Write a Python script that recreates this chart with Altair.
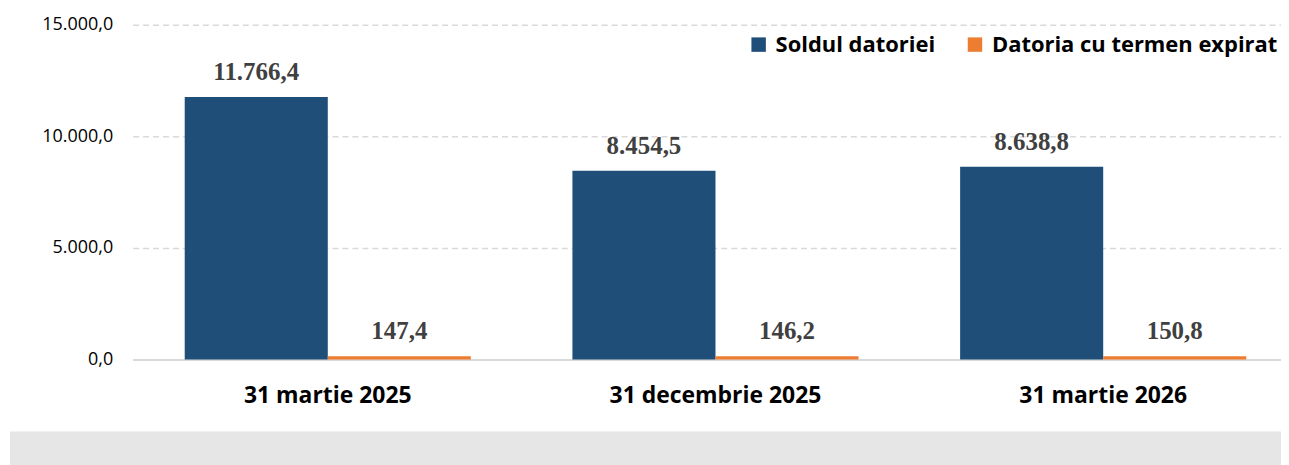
import altair as alt
import pandas as pd

categories = ["31 martie 2025", "31 decembrie 2025", "31 martie 2026"]
series = ["Soldul datoriei", "Datoria cu termen expirat"]
soldul = [11766.4, 8454.5, 8638.8]
expirat = [147.4, 146.2, 150.8]
y_ticks = [0, 5000, 10000, 15000]
colors = ["#1F4E79", "#ED7D31"]

rows = []
for c, s, e in zip(categories, soldul, expirat):
    rows.append({"Perioada": c, "Serie": series[0], "Valoare": s})
    rows.append({"Perioada": c, "Serie": series[1], "Valoare": e})
df = pd.DataFrame(rows)

SANS = "Open Sans"

base = alt.Chart(df).encode(
    x=alt.X("Perioada:N", sort=categories,
            scale=alt.Scale(paddingInner=0.262, paddingOuter=0.112, align=0.6),
            axis=alt.Axis(title=None, labelAngle=0, labelFont=SANS, labelFontWeight="bold",
                          labelFontSize=23, labelColor="black", labelPadding=25, labelLimit=500,
                          ticks=False, domainColor="#d9d9d9", domainWidth=2)),
    xOffset=alt.XOffset("Serie:N", sort=series),
    y=alt.Y("Valoare:Q", scale=alt.Scale(domain=[0, 15000]),
            axis=alt.Axis(values=y_ticks, format=",.1f", title=None, domain=False, ticks=False,
                          gridDash=[6, 4], gridColor="#d9d9d9", gridWidth=1.5,
                          labelFontSize=18, labelFont=SANS, labelColor="black", labelPadding=20)),
)

bars = base.mark_bar().encode(
    color=alt.Color("Serie:N", sort=series, scale=alt.Scale(domain=series, range=colors),
                    legend=alt.Legend(title=None, orient="none", legendX=617, legendY=9,
                                      direction="horizontal",
                                      symbolType="square", symbolSize=210, symbolStrokeWidth=0,
                                      symbolOpacity=1, labelFont=SANS, labelFontWeight="bold",
                                      labelFontSize=22, labelColor="black", labelLimit=500,
                                      columnPadding=28, labelOffset=6, padding=0))
)

labels = base.mark_text(font="Liberation Serif", fontWeight="bold", fontSize=25,
                        color="#404040", baseline="alphabetic", dy=-17).encode(
    text=alt.Text("Valoare:Q", format=",.1f")
)

footer = alt.Chart(pd.DataFrame({"a": [0]})).mark_rect(color="#e6e6e6").encode(
    x=alt.value(-123), x2=alt.value(1152), y=alt.value(408), y2=alt.value(445)
)

chart = alt.layer(footer, bars, labels).properties(
    width=1152, height=336,
    padding={"left": 2, "top": 7, "right": 0, "bottom": 0},
).configure(
    view={"stroke": None},
    locale={"number": {"decimal": ",", "thousands": ".", "grouping": [3], "currency": ["", ""]}},
)

chart.save("out.html", embed_options={"renderer": "svg", "actions": False})
